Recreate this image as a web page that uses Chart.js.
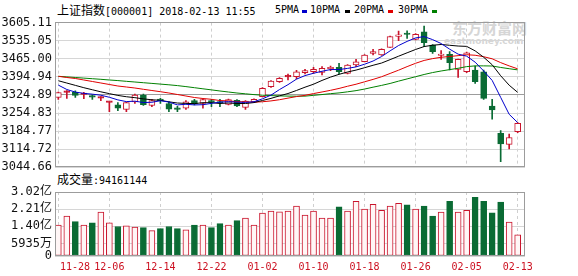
<!DOCTYPE html>
<html><head><meta charset="utf-8">
<script src="https://cdn.jsdelivr.net/npm/chart.js@4.4.0/dist/chart.umd.min.js"></script>
<style>
body{margin:0;background:#fff;}
#wrap{position:relative;width:578px;height:276px;overflow:hidden;background:#fff;}
.t{position:absolute;white-space:nowrap;font-family:"DejaVu Sans Mono",monospace;font-size:10px;color:#000;line-height:14px;}
.cjk{font-family:"Noto Sans CJK SC",sans-serif;font-size:12px;}
.d{position:absolute;width:5px;height:3px;top:10px;}
.wm{position:absolute;white-space:nowrap;color:#d6d6d6;font-weight:bold;}
canvas{position:absolute;left:0;}
</style></head>
<body><div id="wrap">
<div class="wm" style="left:452px;top:19px;font-family:'Noto Sans CJK SC';font-size:15px;line-height:18px;">东方财富网</div>
<div class="wm" style="left:444px;top:36px;font-family:'DejaVu Sans';font-size:9px;line-height:10px;">eastmoney.com</div>
<div class="t" style="left:57px;top:3px"><span class="cjk">上证指数</span>[000001] 2018-02-13 11:55</div>
<div class="t" style="left:275px;top:3px">5PMA</div><div class="d" style="left:302px;background:#0000cc"></div>
<div class="t" style="left:310px;top:3px">10PMA</div><div class="d" style="left:345px;background:#000"></div>
<div class="t" style="left:354px;top:3px">20PMA</div><div class="d" style="left:388px;background:#e00000"></div>
<div class="t" style="left:398px;top:3px">30PMA</div><div class="d" style="left:432px;background:#008000"></div>
<div class="t" style="left:57px;top:172px"><span class="cjk">成交量</span>:94161144</div>
<canvas id="pc" width="578" height="180" style="top:0"></canvas>
<canvas id="vc" width="578" height="106" style="top:170px"></canvas>
</div>
<script>
const dates = ["11-28","11-29","11-30","12-01","12-04","12-05","12-06","12-07","12-08","12-11","12-12","12-13","12-14","12-15","12-18","12-19","12-20","12-21","12-22","12-25","12-26","12-27","12-28","12-29","01-02","01-03","01-04","01-05","01-08","01-09","01-10","01-11","01-12","01-15","01-16","01-17","01-18","01-19","01-22","01-23","01-24","01-25","01-26","01-29","01-30","01-31","02-01","02-02","02-05","02-06","02-07","02-08","02-09","02-12","02-13"];
const xTickLabels = ["11-28","12-06","12-14","12-22","01-02","01-10","01-18","01-26","02-05","02-13"];
const open = [3315.8,3335.1,3335.1,3326.6,3317.7,3312.3,3296.0,3287.1,3268.5,3297.6,3324.7,3284.0,3306.1,3291.7,3271.6,3273.2,3302.6,3291.7,3302.6,3296.4,3287.9,3304.2,3276.3,3297.6,3318.1,3356.8,3376.2,3395.2,3395.6,3411.0,3414.9,3412.6,3426.5,3432.0,3408.7,3440.9,3453.6,3486.2,3479.6,3509.4,3552.0,3562.9,3540.4,3569.8,3518.3,3477.6,3482.3,3424.2,3414.9,3421.5,3414.9,3282.1,3176.4,3133.7,3182.5];
const high = [3336.3,3342.1,3341.3,3335.1,3325.8,3318.1,3298.7,3294.9,3297.6,3328.6,3328.6,3308.0,3311.9,3298.7,3280.9,3302.6,3308.0,3310.3,3308.0,3308.0,3309.2,3307.3,3303.4,3310.3,3353.0,3380.8,3392.4,3406.0,3420.3,3424.2,3432.0,3434.3,3437.0,3447.4,3442.8,3462.9,3481.5,3501.7,3504.0,3553.2,3572.5,3573.7,3562.9,3591.9,3520.3,3496.3,3492.4,3464.1,3491.2,3437.0,3421.5,3308.0,3186.4,3173.6,3217.4];
const low = [3308.0,3311.9,3315.8,3310.3,3308.0,3302.6,3260.0,3263.9,3260.0,3292.5,3284.0,3279.4,3292.5,3260.0,3260.0,3269.3,3286.0,3273.2,3279.4,3279.4,3286.0,3279.4,3269.3,3295.6,3316.9,3354.5,3373.1,3382.8,3386.6,3406.0,3408.7,3402.1,3418.8,3406.0,3406.0,3434.3,3452.5,3479.6,3477.6,3508.6,3535.0,3544.3,3537.7,3511.7,3486.2,3462.9,3421.5,3393.2,3411.0,3370.0,3308.0,3230.6,3066.4,3115.5,3178.7];
const close = [3334.4,3337.1,3323.5,3328.2,3316.2,3313.8,3297.6,3273.2,3294.9,3324.7,3287.1,3302.6,3303.0,3269.7,3269.3,3298.7,3290.6,3307.3,3295.6,3293.7,3307.3,3282.1,3301.4,3308.0,3350.6,3378.9,3389.4,3397.1,3414.9,3418.8,3424.2,3428.1,3430.4,3414.9,3440.9,3453.6,3479.6,3492.4,3501.7,3550.5,3557.8,3559.0,3559.8,3527.2,3492.4,3482.3,3449.8,3462.9,3488.5,3376.2,3311.9,3266.6,3134.9,3160.0,3215.1];
const ma5 = [3363,3346,3336,3331,3327.9,3323.8,3315.9,3305.8,3299.1,3300.8,3295.5,3296.5,3302.5,3297.4,3286.3,3288.7,3286.3,3287.1,3292.3,3297.2,3298.9,3297.2,3296.0,3298.5,3309.9,3324.2,3345.7,3364.8,3386.2,3399.8,3408.9,3416.6,3423.3,3423.3,3427.7,3433.6,3443.9,3456.3,3473.6,3495.6,3516.4,3532.3,3545.8,3550.9,3539.2,3524.1,3502.3,3482.9,3475.2,3451.9,3417.9,3381.2,3315.6,3249.9,3217.7];
const ma10 = [3380,3371,3362,3353,3345,3337,3330,3323,3318,3314.4,3309.6,3306.2,3304.1,3298.3,3293.6,3292.1,3291.4,3294.8,3294.9,3291.8,3293.8,3291.7,3291.6,3295.4,3303.5,3311.6,3321.4,3330.4,3342.3,3354.9,3366.5,3381.1,3394.0,3404.7,3413.8,3421.2,3430.3,3439.8,3448.5,3461.6,3475.0,3488.1,3501.0,3512.3,3517.4,3520.3,3517.3,3514.3,3513.0,3495.6,3471.0,3441.8,3399.3,3362.6,3334.8];
const ma20 = [3397.1,3392.5,3388.6,3382.8,3377.0,3371.2,3365.4,3359.5,3355.7,3351.8,3346.8,3342.1,3337.5,3332.4,3326.6,3320.8,3315.0,3311.1,3308.0,3303.1,3301.7,3299.0,3297.9,3296.8,3298.6,3301.8,3306.4,3312.6,3318.6,3323.3,3330.2,3336.4,3342.8,3350.1,3358.6,3366.4,3375.8,3385.1,3395.4,3408.2,3420.8,3434.6,3447.5,3458.5,3465.6,3470.8,3473.8,3477.1,3480.7,3478.6,3473.0,3464.9,3450.1,3437.4,3426.1];
const ma30 = [3397.1,3394.8,3392.5,3390.1,3387.8,3385.5,3382.8,3380.5,3377.7,3375.0,3372.3,3369.6,3366.9,3364.2,3361.1,3357.2,3353.0,3348.7,3344.5,3340.2,3336.3,3332.4,3329.3,3326.2,3323.9,3322.4,3321.2,3320.4,3320.0,3320.3,3323.3,3326.4,3329.9,3332.8,3337.0,3341.6,3347.7,3355.0,3361.9,3369.4,3378.4,3387.0,3395.5,3404.1,3411.6,3417.7,3423.0,3428.2,3434.6,3437.4,3437.5,3437.0,3431.4,3426.5,3422.0];
const volume = [1.46,1.88,1.62,1.46,1.57,2.07,1.56,1.39,1.42,1.37,1.34,1.20,1.29,1.39,1.29,1.23,1.46,1.46,1.34,1.53,1.46,1.67,1.79,1.46,2.02,2.12,2.09,2.12,2.35,1.93,2.12,1.79,1.79,2.32,2.12,2.58,2.21,2.44,2.16,2.35,2.49,2.41,2.21,2.35,1.88,2.07,2.58,2.07,2.16,2.77,2.58,2.04,2.55,1.60,1.00];
const priceTicks = [3044.66,3114.72,3184.77,3254.83,3324.89,3394.94,3465.00,3535.05,3605.11];
const volTickValues = [0,0.5935,1.4023,2.2112,3.02];
const volTickLabels = ["0","5935万","1.40亿","2.21亿","3.02亿"];

const RED='#c9132b', GREEN='#0a6b34';
const isUp = close.map((c,i)=>c>=open[i]);
const xIdx = dates.map((d,i)=>i+1);
const tickIdx = xTickLabels.map(l=>dates.indexOf(l)+1);

Chart.defaults.font.family='"DejaVu Sans Mono", monospace';
Chart.defaults.font.size=12;
Chart.defaults.color='#111';

const xScale = () => ({
  type:'linear', min:0.61, max:55.86, bounds:'data', offset:false,
  afterBuildTicks: a => { a.ticks = tickIdx.map(v=>({value:v})); },
  ticks:{display:false},
  grid:{display:true, color:'#cfcfcf', drawTicks:false, offset:false},
  border:{display:false, dash:[3,3]}
});

const boxPlugin = {id:'box', afterDatasetsDraw(chart){
  const {ctx, chartArea:a} = chart;
  ctx.save(); ctx.strokeStyle='#9c9c9c'; ctx.lineWidth=1;
  const l=Math.floor(a.left)+0.5, t=Math.floor(a.top)+0.5, r=Math.round(a.right)-0.5, b=Math.round(a.bottom)-0.5;
  ctx.strokeRect(l,t,r-l,b-t); ctx.restore();
}};

const lineDs = (label, arr, color) => ({type:'line', label, data: arr.map((v,i)=>({x:xIdx[i], y:v})),
  borderColor: color, borderWidth:1, pointRadius:0, tension:0, order:0, fill:false});

new Chart(document.getElementById('pc'), {
  type:'bar',
  data:{datasets:[
    lineDs('5PMA', ma5, '#0000cc'),
    lineDs('10PMA', ma10, '#000000'),
    lineDs('20PMA', ma20, '#e00000'),
    lineDs('30PMA', ma30, '#008000'),
    {type:'bar', label:'body', data: open.map((o,i)=>({x:xIdx[i], y:[o, close[i]]})),
      backgroundColor: isUp.map((u,i)=> u ? (close[i]-open[i] < 3 ? RED : '#ffffff') : GREEN),
      borderColor: isUp.map(u=> u ? RED : GREEN), borderWidth:1, borderSkipped:false,
      barThickness:6, minBarLength:1.5, grouped:false, order:1},
    {type:'bar', label:'wick', data: low.map((l,i)=>({x:xIdx[i], y:[l, high[i]]})),
      backgroundColor: isUp.map(u=> u ? RED : GREEN), borderWidth:0,
      barThickness:1, grouped:false, order:2}
  ]},
  options:{
    responsive:false, animation:false, devicePixelRatio:1,
    layout:{padding:{left:0, right:53, top:22.6, bottom:12.7}},
    plugins:{legend:{display:false}, tooltip:{enabled:false}},
    scales:{
      x: xScale(),
      y:{type:'linear', min:3044.66, max:3605.11, bounds:'data',
        afterBuildTicks: a => { a.ticks = priceTicks.map(v=>({value:v})); },
        afterFit: s => { s.width = 55; },
        ticks:{padding:3, color:'#111', autoSkip:false, font:{size:12}, callback: v => v.toFixed(2)},
        grid:{drawTicks:false, color: c => (c.tick && Math.abs(c.tick.value-3324.89)<0.01) ? '#9c9c9c' : '#d6d6d6'},
        border:{display:false}}
    }
  },
  plugins:[boxPlugin]
});

const xLabelPlugin = {id:'xl', afterDraw(chart){
  const {ctx, chartArea:a, scales:{x}} = chart;
  ctx.save(); ctx.font='10px "DejaVu Sans Mono"'; ctx.fillStyle='#cc1020'; ctx.textBaseline='middle';
  xTickLabels.forEach(l => {
    const px = x.getPixelForValue(dates.indexOf(l)+1);
    const w = ctx.measureText(l).width;
    const left = Math.max(px - w/2, a.left + 5);
    ctx.fillText(l, left, a.bottom + 11.5);
  });
  ctx.restore();
}};

new Chart(document.getElementById('vc'), {
  type:'bar',
  data:{datasets:[
    {type:'bar', label:'成交量', data: volume.map((v,i)=>({x:xIdx[i], y:v})),
      backgroundColor: isUp.map(u=> u ? '#fff6f6' : GREEN),
      borderColor: isUp.map(u=> u ? RED : GREEN), borderWidth:1, borderSkipped:false,
      barThickness:6, grouped:false}
  ]},
  options:{
    responsive:false, animation:false, devicePixelRatio:1,
    layout:{padding:{left:0, right:53, top:22, bottom:20}},
    plugins:{legend:{display:false}, tooltip:{enabled:false}},
    scales:{
      x: xScale(),
      y:{type:'linear', min:0, max:3.02, bounds:'data',
        afterBuildTicks: a => { a.ticks = volTickValues.map(v=>({value:v})); },
        afterFit: s => { s.width = 55; },
        ticks:{padding:3, color:'#111', autoSkip:false, font:{size:12, family:'"DejaVu Sans Mono", "Noto Sans CJK SC"'}, callback: (v,i) => volTickLabels[i]},
        grid:{drawTicks:false, color:'#d6d6d6'},
        border:{display:false}}
    }
  },
  plugins:[boxPlugin, xLabelPlugin]
});
</script>
</body></html>
